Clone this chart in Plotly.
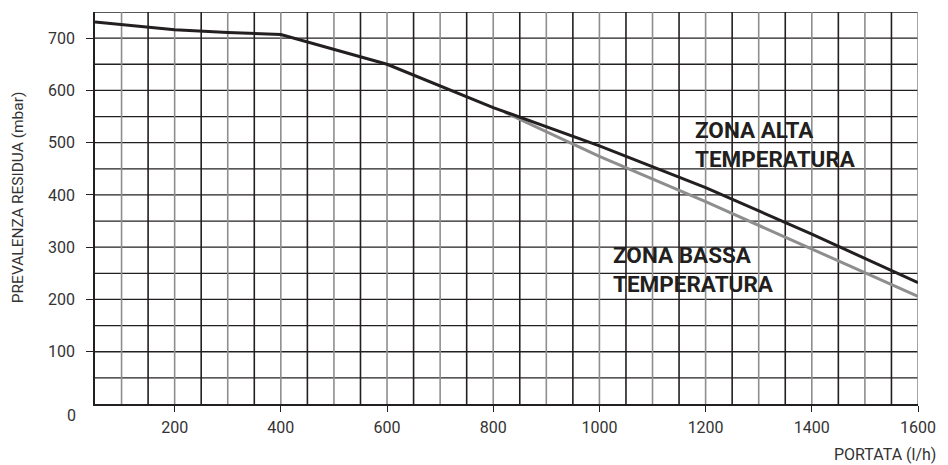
import plotly.graph_objects as go

# Data
alta_x = [50, 100, 150, 200, 300, 400, 600, 800, 1000, 1200, 1400, 1600]
alta_y = [731, 726, 721, 716, 711, 707, 650, 567, 494, 414, 325, 232]
bassa_x = [822, 1000, 1200, 1400, 1600]
bassa_y = [558, 474, 387, 297, 206]

x_tickvals = [200, 400, 600, 800, 1000, 1200, 1400, 1600]
y_tickvals = [100, 200, 300, 400, 500, 600, 700]

X_MIN, X_MAX = 50, 1600
Y_MIN, Y_MAX = 0, 750
GRID_STEP = 50

DARK = "#231f20"
GRAY = "#8e8e8e"
TXT = "#333333"
FONT = "Roboto"

fig = go.Figure()

fig.add_trace(go.Scatter(x=bassa_x, y=bassa_y, mode="lines",
                         line=dict(color=GRAY, width=3), hoverinfo="skip",
                         showlegend=False))
fig.add_trace(go.Scatter(x=alta_x, y=alta_y, mode="lines",
                         line=dict(color=DARK, width=3), hoverinfo="skip",
                         showlegend=False))

shapes = []
# horizontal grid lines
y = Y_MIN + GRID_STEP
while y <= Y_MAX:
    shapes.append(dict(type="line", xref="x", yref="y", x0=X_MIN, x1=X_MAX,
                       y0=y, y1=y, layer="below",
                       line=dict(color=DARK, width=1.3)))
    y += GRID_STEP
# vertical grid lines (alternating gray / dark)
x = X_MIN + GRID_STEP
while x <= X_MAX:
    col = GRAY if x % 100 == 0 else DARK
    shapes.append(dict(type="line", xref="x", yref="y", x0=x, x1=x,
                       y0=Y_MIN, y1=Y_MAX, layer="below",
                       line=dict(color=col, width=1.6)))
    x += GRID_STEP

annotations = [
    dict(text="<b>ZONA ALTA<br>TEMPERATURA</b>", x=1177, y=497, xref="x", yref="y",
         xanchor="left", yanchor="middle", align="left", showarrow=False,
         font=dict(family=FONT, size=22.5, color=DARK)),
    dict(text="<b>ZONA BASSA<br>TEMPERATURA</b>", x=1021, y=257, xref="x", yref="y",
         xanchor="left", yanchor="middle", align="left", showarrow=False,
         font=dict(family=FONT, size=22.5, color=DARK)),
    dict(text="0", x=-0.028, y=-0.03, xref="paper", yref="paper",
         xanchor="center", yanchor="middle", showarrow=False,
         font=dict(family=FONT, size=16, color=TXT)),
    dict(text="PORTATA (l/h)", x=1.0 + 20 / 825, y=-0.13, xref="paper", yref="paper",
         xanchor="right", yanchor="middle", showarrow=False,
         font=dict(family=FONT, size=16, color=TXT)),
    dict(text="PREVALENZA RESIDUA (mbar)", x=-77 / 825, y=0.528, xref="paper", yref="paper",
         xanchor="center", yanchor="middle", textangle=-90, showarrow=False,
         font=dict(family=FONT, size=15.5, color=TXT)),
]

fig.update_layout(
    width=948, height=465,
    margin=dict(l=95, r=28, t=12, b=61),
    paper_bgcolor="white", plot_bgcolor="white",
    shapes=shapes, annotations=annotations,
    font=dict(family=FONT, size=16, color=TXT),
)
fig.update_xaxes(range=[X_MIN, X_MAX], showgrid=False, zeroline=False,
                 showline=True, linecolor=DARK, linewidth=1.6,
                 tickvals=x_tickvals, ticks="outside", ticklen=6,
                 tickcolor=DARK, tickwidth=1.3, ticklabelstandoff=2,
                 tickfont=dict(family=FONT, size=16, color=TXT))
fig.update_yaxes(range=[Y_MIN, Y_MAX], showgrid=False, zeroline=False,
                 showline=True, linecolor=DARK, linewidth=1.6,
                 tickvals=y_tickvals, ticks="outside", ticklen=7,
                 tickcolor=DARK, tickwidth=1.3, ticklabelstandoff=8,
                 tickfont=dict(family=FONT, size=16, color=TXT))

fig.write_html("out.html")
